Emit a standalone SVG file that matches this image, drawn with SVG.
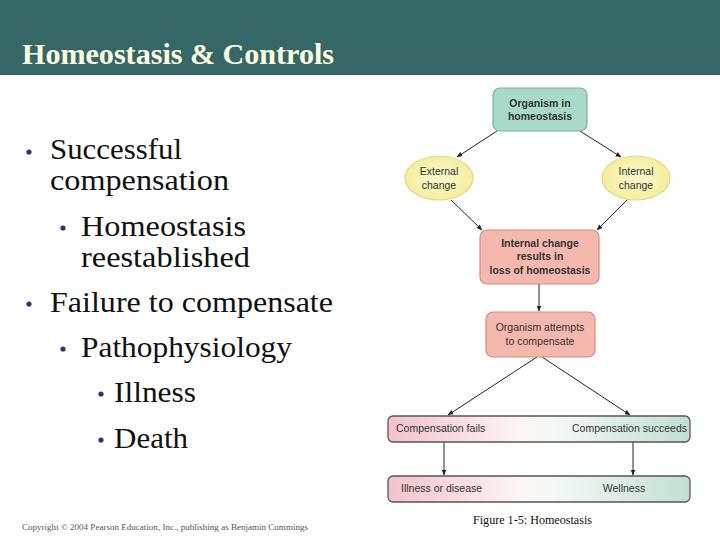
<svg xmlns="http://www.w3.org/2000/svg" width="720" height="540" viewBox="0 0 720 540">
<defs>
<style>
.title{font-family:'Liberation Serif','Times New Roman',serif;font-weight:bold;font-size:30px;fill:#ffffe0}
.bul{font-family:'Liberation Serif','Times New Roman',serif;font-size:29px;fill:#111}
.dot{fill:#33337a}
.lbl{font-family:'Liberation Sans',Arial,sans-serif;font-size:10.5px;fill:#333;text-anchor:middle}
.lb{font-weight:bold}
.band{font-family:'Liberation Sans',Arial,sans-serif;font-size:10.5px;fill:#333}
.teal{fill:#a9d9c9;stroke:#78b0a0;stroke-width:1.2}
.pink{fill:#f5b8ae;stroke:#d9897f;stroke-width:1.2}
.yel{fill:url(#yg);stroke:#e3d983;stroke-width:1.2}
.bandr{fill:url(#bg);stroke:#555;stroke-width:1.3}
.conn line{stroke:#222;stroke-width:1;marker-end:url(#ah)}
</style>
<radialGradient id="yg" cx="0.5" cy="0.5" r="0.6">
<stop offset="0" stop-color="#fcfad0"/>
<stop offset="1" stop-color="#f3ec95"/>
</radialGradient>
<linearGradient id="bg" x1="0" y1="0" x2="1" y2="0">
<stop offset="0" stop-color="#f4c2cc"/>
<stop offset="0.45" stop-color="#fdf6f6"/>
<stop offset="0.55" stop-color="#f4f8f6"/>
<stop offset="1" stop-color="#c2dfd3"/>
</linearGradient>
<marker id="ah" viewBox="0 0 10 10" refX="9" refY="5" markerWidth="6" markerHeight="6" orient="auto" markerUnits="userSpaceOnUse">
<path d="M0,1 L10,5 L0,9 z" fill="#222"/>
</marker>
</defs>
<rect x="0" y="0" width="720" height="540" fill="#ffffff"/>
<rect x="0" y="0" width="720" height="75" fill="#356767"/>
<text class="title" x="22" y="64" textLength="312" lengthAdjust="spacingAndGlyphs">Homeostasis &amp; Controls</text>

<g id="bullets">
<circle class="dot" cx="29" cy="152" r="2.6"/>
<text class="bul" x="50" y="159" textLength="132" lengthAdjust="spacingAndGlyphs">Successful</text>
<text class="bul" x="50" y="190" textLength="179" lengthAdjust="spacingAndGlyphs">compensation</text>
<circle class="dot" cx="63" cy="228" r="2.6"/>
<text class="bul" x="81" y="236" textLength="165" lengthAdjust="spacingAndGlyphs">Homeostasis</text>
<text class="bul" x="81" y="267" textLength="169" lengthAdjust="spacingAndGlyphs">reestablished</text>
<circle class="dot" cx="29" cy="304" r="2.6"/>
<text class="bul" x="50" y="312" textLength="283" lengthAdjust="spacingAndGlyphs">Failure to compensate</text>
<circle class="dot" cx="63" cy="349" r="2.6"/>
<text class="bul" x="81" y="357" textLength="211" lengthAdjust="spacingAndGlyphs">Pathophysiology</text>
<circle class="dot" cx="101" cy="394" r="2.6"/>
<text class="bul" x="114" y="402" textLength="82" lengthAdjust="spacingAndGlyphs">Illness</text>
<circle class="dot" cx="101" cy="440" r="2.6"/>
<text class="bul" x="114" y="448" textLength="74" lengthAdjust="spacingAndGlyphs">Death</text>
</g>

<g class="conn" id="connectors">
<line x1="497" y1="131" x2="457" y2="157"/>
<line x1="580" y1="131" x2="621" y2="157"/>
<line x1="451" y1="200" x2="482" y2="230"/>
<line x1="628" y1="199" x2="597" y2="230"/>
<line x1="539" y1="284" x2="539" y2="311"/>
<line x1="537" y1="357" x2="448" y2="415"/>
<line x1="542" y1="357" x2="630" y2="415"/>
<line x1="444" y1="442" x2="444" y2="475"/>
<line x1="633" y1="442" x2="633" y2="475"/>
</g>

<g id="n-organism">
<rect class="teal" x="493" y="88" width="94" height="43" rx="7"/>
<text class="lbl lb" x="540" y="107">Organism in</text>
<text class="lbl lb" x="540" y="120">homeostasis</text>
</g>
<g id="n-external">
<ellipse class="yel" cx="439" cy="178" rx="34" ry="22"/>
<text class="lbl" x="439" y="175">External</text>
<text class="lbl" x="439" y="189">change</text>
</g>
<g id="n-internal">
<ellipse class="yel" cx="636" cy="178" rx="34" ry="22"/>
<text class="lbl" x="636" y="175">Internal</text>
<text class="lbl" x="636" y="189">change</text>
</g>
<g id="n-loss">
<rect class="pink" x="480" y="230" width="119" height="54" rx="7"/>
<text class="lbl lb" x="540" y="247">Internal change</text>
<text class="lbl lb" x="540" y="260">results in</text>
<text class="lbl lb" x="540" y="274">loss of homeostasis</text>
</g>
<g id="n-attempt">
<rect class="pink" x="486" y="312" width="109" height="45" rx="7"/>
<text class="lbl" x="540" y="331">Organism attempts</text>
<text class="lbl" x="540" y="345">to compensate</text>
</g>
<g id="n-comp">
<rect class="bandr" x="388" y="416" width="302" height="26" rx="5"/>
<text class="band" x="396" y="432">Compensation fails</text>
<text class="band" x="687" y="432" text-anchor="end">Compensation succeeds</text>
</g>
<g id="n-outcome">
<rect class="bandr" x="388" y="476" width="302" height="26" rx="5"/>
<text class="band" x="401" y="492">Illness or disease</text>
<text class="band" x="624" y="492" text-anchor="middle">Wellness</text>
</g>

<text x="473" y="524" font-family="Liberation Serif, Times New Roman, serif" font-size="12.5" fill="#111" textLength="119" lengthAdjust="spacingAndGlyphs">Figure 1-5: Homeostasis</text>
<text x="22" y="530" font-family="Liberation Serif, Times New Roman, serif" font-size="8.5" fill="#555" textLength="286" lengthAdjust="spacingAndGlyphs">Copyright © 2004 Pearson Education, Inc., publishing as Benjamin Cummings</text>
</svg>
